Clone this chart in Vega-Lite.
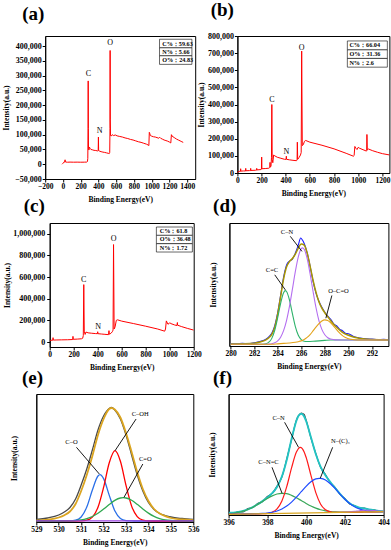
{
"$schema":"https://vega.github.io/schema/vega-lite/v6.json",
"padding":{"left":0,"top":0,"right":0,"bottom":2},
"background":"white",
"config":{
"font":"Liberation Serif",
"view":{"stroke":"#000","strokeWidth":1},
"axis":{"labelFont":"Liberation Serif","labelFontWeight":"bold","labelFontSize":7.5,"labelColor":"#000","titleFont":"Liberation Serif","titleFontWeight":"bold","titleFontSize":7.5,"titleColor":"#000","domainColor":"#000","tickColor":"#000","tickSize":3,"grid":false,"labelPadding":1,"titlePadding":5.5,"labelOverlap":false,"labelFlush":false},
"axisY":{"labelFontSize":8},
"axisX":{"labelPadding":0},
"title":{"font":"Liberation Serif","fontSize":19,"fontWeight":"bold","anchor":"start","frame":"group","baseline":"alphabetic","color":"#000"},
"text":{"font":"Liberation Serif","color":"#000"}
},
"datasets":{
"A":[{"x":-10,"y":0},{"x":0,"y":3000},{"x":8,"y":6500},{"x":18,"y":7000},{"x":24,"y":15000},{"x":28,"y":7500},{"x":50,"y":6800},{"x":80,"y":7200},{"x":120,"y":6900},{"x":160,"y":7100},{"x":200,"y":6800},{"x":240,"y":7000},{"x":268,"y":7300},{"x":276,"y":9000},{"x":280,"y":20000},{"x":283,"y":120000},{"x":284.5,"y":282000},{"x":286,"y":120000},{"x":288,"y":55000},{"x":292,"y":48000},{"x":298,"y":58000},{"x":305,"y":54000},{"x":315,"y":50000},{"x":330,"y":49000},{"x":350,"y":47000},{"x":370,"y":46500},{"x":390,"y":45000},{"x":397,"y":46000},{"x":399.5,"y":92000},{"x":402,"y":46000},{"x":415,"y":44000},{"x":430,"y":42500},{"x":450,"y":41000},{"x":470,"y":40000},{"x":490,"y":38500},{"x":510,"y":37000},{"x":522,"y":36000},{"x":527,"y":40000},{"x":530,"y":120000},{"x":531.5,"y":385000},{"x":533,"y":150000},{"x":536,"y":97000},{"x":545,"y":96000},{"x":555,"y":100000},{"x":570,"y":97000},{"x":590,"y":99000},{"x":610,"y":96000},{"x":640,"y":94000},{"x":670,"y":92000},{"x":700,"y":89000},{"x":730,"y":87000},{"x":760,"y":84000},{"x":790,"y":82000},{"x":820,"y":79000},{"x":850,"y":76000},{"x":880,"y":74000},{"x":910,"y":71000},{"x":940,"y":68000},{"x":960,"y":65000},{"x":968,"y":63000},{"x":973,"y":108000},{"x":978,"y":104000},{"x":985,"y":97000},{"x":1000,"y":95000},{"x":1020,"y":93000},{"x":1040,"y":92000},{"x":1060,"y":90000},{"x":1080,"y":88000},{"x":1090,"y":91000},{"x":1100,"y":88000},{"x":1120,"y":85000},{"x":1140,"y":82000},{"x":1160,"y":80000},{"x":1180,"y":78000},{"x":1200,"y":75000},{"x":1215,"y":72000},{"x":1222,"y":100000},{"x":1228,"y":96000},{"x":1240,"y":93000},{"x":1260,"y":89000},{"x":1280,"y":85000},{"x":1300,"y":82000},{"x":1320,"y":79000},{"x":1340,"y":76000},{"x":1355,"y":74000}],
"Alab":[{"x":288,"y":307000,"t":"C"},{"x":412,"y":113000,"t":"N"},{"x":532,"y":409000,"t":"O"}],
"Abox":[{"x":1088,"x2":1453,"y":423000,"y2":394000},{"x":1088,"x2":1453,"y":394000,"y2":367000},{"x":1088,"x2":1453,"y":367000,"y2":338000}],
"Atxt":[{"x":1118,"y":408000,"t":"C%：59.63"},{"x":1118,"y":380000,"t":"N%：5.66"},{"x":1118,"y":352000,"t":"O%：24.83"}],
"B":[{"x":0,"y":0},{"x":5,"y":8000},{"x":20,"y":10000},{"x":26,"y":10000},{"x":27,"y":25000},{"x":28,"y":11000},{"x":50,"y":12000},{"x":68,"y":12000},{"x":69,"y":27000},{"x":70,"y":13000},{"x":100,"y":14000},{"x":109,"y":14000},{"x":110,"y":27000},{"x":111,"y":15000},{"x":150,"y":16000},{"x":159,"y":17000},{"x":160,"y":27000},{"x":161,"y":18000},{"x":195,"y":20000},{"x":199,"y":22000},{"x":201,"y":93000},{"x":203,"y":25000},{"x":230,"y":26000},{"x":260,"y":28000},{"x":268,"y":32000},{"x":270,"y":62000},{"x":272,"y":35000},{"x":278,"y":38000},{"x":282,"y":90000},{"x":285,"y":400000},{"x":288,"y":80000},{"x":293,"y":60000},{"x":300,"y":105000},{"x":310,"y":100000},{"x":330,"y":92000},{"x":360,"y":86000},{"x":390,"y":80000},{"x":403,"y":80000},{"x":405,"y":98000},{"x":407,"y":80000},{"x":430,"y":77000},{"x":460,"y":74000},{"x":488,"y":72000},{"x":494,"y":75000},{"x":496,"y":180000},{"x":499,"y":80000},{"x":510,"y":90000},{"x":522,"y":105000},{"x":528,"y":120000},{"x":532,"y":712000},{"x":537,"y":160000},{"x":545,"y":165000},{"x":555,"y":185000},{"x":565,"y":190000},{"x":600,"y":180000},{"x":700,"y":162000},{"x":800,"y":141000},{"x":900,"y":115000},{"x":960,"y":98000},{"x":966,"y":102000},{"x":972,"y":155000},{"x":980,"y":145000},{"x":990,"y":137000},{"x":1000,"y":150000},{"x":1010,"y":145000},{"x":1040,"y":136000},{"x":1068,"y":128000},{"x":1070,"y":130000},{"x":1072,"y":225000},{"x":1075,"y":135000},{"x":1085,"y":140000},{"x":1120,"y":130000},{"x":1160,"y":121000},{"x":1200,"y":113000},{"x":1262,"y":105000}],
"Blab":[{"x":286,"y":426000,"t":"C"},{"x":405,"y":124000,"t":"N"},{"x":532,"y":731000,"t":"O"}],
"Bbox":[{"x":910,"x2":1241,"y":771000,"y2":719000},{"x":910,"x2":1241,"y":719000,"y2":669000},{"x":910,"x2":1241,"y":669000,"y2":618000}],
"Btxt":[{"x":927,"y":745000,"t":"C%：66.04"},{"x":927,"y":694000,"t":"O%：31.36"},{"x":927,"y":644000,"t":"N%：2.6"}],
"C":[{"x":0,"y":12000},{"x":10,"y":16000},{"x":26,"y":17000},{"x":28,"y":40000},{"x":30,"y":18000},{"x":60,"y":19000},{"x":100,"y":20000},{"x":150,"y":21000},{"x":192,"y":23000},{"x":194,"y":52000},{"x":196,"y":25000},{"x":230,"y":27000},{"x":265,"y":30000},{"x":275,"y":35000},{"x":280,"y":60000},{"x":284,"y":530000},{"x":288,"y":100000},{"x":295,"y":70000},{"x":302,"y":92000},{"x":320,"y":85000},{"x":350,"y":81000},{"x":380,"y":78000},{"x":398,"y":77000},{"x":400,"y":95000},{"x":402,"y":77000},{"x":430,"y":74000},{"x":460,"y":71000},{"x":490,"y":68000},{"x":494,"y":105000},{"x":497,"y":72000},{"x":510,"y":80000},{"x":522,"y":95000},{"x":528,"y":110000},{"x":532,"y":900000},{"x":537,"y":120000},{"x":545,"y":140000},{"x":555,"y":200000},{"x":565,"y":205000},{"x":600,"y":193000},{"x":700,"y":170000},{"x":800,"y":146000},{"x":900,"y":120000},{"x":958,"y":100000},{"x":965,"y":120000},{"x":972,"y":195000},{"x":985,"y":165000},{"x":995,"y":170000},{"x":1000,"y":178000},{"x":1010,"y":170000},{"x":1040,"y":158000},{"x":1060,"y":152000},{"x":1064,"y":180000},{"x":1066,"y":155000},{"x":1100,"y":142000},{"x":1150,"y":125000},{"x":1200,"y":110000}],
"Clab":[{"x":283,"y":569000,"t":"C"},{"x":403,"y":138000,"t":"N"},{"x":532,"y":955000,"t":"O"}],
"Cbox":[{"x":889,"x2":1189,"y":1062000,"y2":985000},{"x":889,"x2":1189,"y":985000,"y2":908000},{"x":889,"x2":1189,"y":908000,"y2":831000}],
"Ctxt":[{"x":917,"y":1023000,"t":"C%：61.8"},{"x":917,"y":947000,"t":"O%：36.48"},{"x":917,"y":869000,"t":"N%：1.72"}],
"D":[
{"s":"raw","x":280,"y":0.8},{"s":"raw","x":280.5,"y":0.4},{"s":"raw","x":281,"y":1},{"s":"raw","x":281.5,"y":0.6},{"s":"raw","x":282,"y":1.5},{"s":"raw","x":282.5,"y":2.8},{"s":"raw","x":283,"y":5},{"s":"raw","x":283.25,"y":7.5},{"s":"raw","x":283.5,"y":11},{"s":"raw","x":283.75,"y":18.5},{"s":"raw","x":284,"y":31.5},{"s":"raw","x":284.25,"y":49},{"s":"raw","x":284.5,"y":67},{"s":"raw","x":284.75,"y":79},{"s":"raw","x":285,"y":83},{"s":"raw","x":285.25,"y":85},{"s":"raw","x":285.5,"y":91},{"s":"raw","x":285.75,"y":99},{"s":"raw","x":285.95,"y":106},{"s":"raw","x":286.1,"y":104},{"s":"raw","x":286.25,"y":100.5},{"s":"raw","x":286.5,"y":91.5},{"s":"raw","x":286.75,"y":78},{"s":"raw","x":287,"y":63},{"s":"raw","x":287.25,"y":51},{"s":"raw","x":287.5,"y":43},{"s":"raw","x":287.75,"y":37},{"s":"raw","x":288,"y":32},{"s":"raw","x":288.25,"y":28},{"s":"raw","x":288.5,"y":25},{"s":"raw","x":288.75,"y":20.5},{"s":"raw","x":289,"y":18.5},{"s":"raw","x":289.25,"y":15},{"s":"raw","x":289.5,"y":13.5},{"s":"raw","x":289.75,"y":11},{"s":"raw","x":290,"y":10.5},{"s":"raw","x":290.5,"y":7.5},{"s":"raw","x":291,"y":6.3},{"s":"raw","x":291.5,"y":5.5},{"s":"raw","x":292,"y":5.2},{"s":"raw","x":292.5,"y":4.7},{"s":"raw","x":293,"y":5},{"s":"raw","x":293.4,"y":4.6},
{"s":"env","x":280,"y":0.3},{"s":"env","x":281,"y":0.5},{"s":"env","x":282,"y":1},{"s":"env","x":282.5,"y":2.3},{"s":"env","x":283,"y":4.5},{"s":"env","x":283.25,"y":6.5},{"s":"env","x":283.5,"y":10},{"s":"env","x":283.75,"y":17},{"s":"env","x":284,"y":30},{"s":"env","x":284.25,"y":47.5},{"s":"env","x":284.5,"y":65},{"s":"env","x":284.75,"y":77},{"s":"env","x":285,"y":82.5},{"s":"env","x":285.25,"y":85.5},{"s":"env","x":285.5,"y":90},{"s":"env","x":285.75,"y":96},{"s":"env","x":286,"y":100},{"s":"env","x":286.25,"y":99},{"s":"env","x":286.5,"y":91},{"s":"env","x":286.75,"y":78},{"s":"env","x":287,"y":64},{"s":"env","x":287.25,"y":52},{"s":"env","x":287.5,"y":42.5},{"s":"env","x":287.75,"y":36},{"s":"env","x":288,"y":31.5},{"s":"env","x":288.25,"y":27.5},{"s":"env","x":288.5,"y":23.5},{"s":"env","x":288.75,"y":20},{"s":"env","x":289,"y":17},{"s":"env","x":289.5,"y":12},{"s":"env","x":290,"y":9},{"s":"env","x":290.5,"y":7},{"s":"env","x":291,"y":5.8},{"s":"env","x":292,"y":4.8},{"s":"env","x":293.4,"y":4.4},
{"s":"g","x":280,"y":0},{"s":"g","x":282,"y":0},{"s":"g","x":282.5,"y":0.03},{"s":"g","x":283,"y":0.6},{"s":"g","x":283.25,"y":2.1},{"s":"g","x":283.5,"y":5.9},{"s":"g","x":283.75,"y":14},{"s":"g","x":284,"y":26.5},{"s":"g","x":284.25,"y":40.9},{"s":"g","x":284.5,"y":51.5},{"s":"g","x":284.65,"y":53.5},{"s":"g","x":284.75,"y":52.7},{"s":"g","x":285,"y":44.2},{"s":"g","x":285.25,"y":30.5},{"s":"g","x":285.5,"y":17.6},{"s":"g","x":285.75,"y":9},{"s":"g","x":286,"y":4.7},{"s":"g","x":286.25,"y":3.1},{"s":"g","x":286.5,"y":2.8},{"s":"g","x":287,"y":3},{"s":"g","x":287.5,"y":3.4},{"s":"g","x":288,"y":3.9},{"s":"g","x":288.5,"y":4.3},{"s":"g","x":293.4,"y":4.3},
{"s":"p","x":280,"y":0},{"s":"p","x":282.5,"y":0},{"s":"p","x":283,"y":0.05},{"s":"p","x":283.25,"y":0.16},{"s":"p","x":283.5,"y":0.5},{"s":"p","x":283.75,"y":1.5},{"s":"p","x":284,"y":3.4},{"s":"p","x":284.25,"y":7.1},{"s":"p","x":284.5,"y":13.6},{"s":"p","x":284.75,"y":23.7},{"s":"p","x":285,"y":37.8},{"s":"p","x":285.25,"y":55},{"s":"p","x":285.5,"y":72.7},{"s":"p","x":285.75,"y":87.3},{"s":"p","x":286,"y":95.5},{"s":"p","x":286.1,"y":96.2},{"s":"p","x":286.25,"y":94.8},{"s":"p","x":286.5,"y":85.6},{"s":"p","x":286.75,"y":70.4},{"s":"p","x":287,"y":52.9},{"s":"p","x":287.25,"y":36.7},{"s":"p","x":287.5,"y":23.7},{"s":"p","x":287.75,"y":14.9},{"s":"p","x":288,"y":9.5},{"s":"p","x":288.25,"y":6.6},{"s":"p","x":288.5,"y":5.3},{"s":"p","x":288.75,"y":4.7},{"s":"p","x":289,"y":4.4},{"s":"p","x":289.5,"y":4.3},{"s":"p","x":293.4,"y":4.3},
{"s":"o","x":280,"y":0},{"s":"o","x":283.5,"y":0},{"s":"o","x":284,"y":0.4},{"s":"o","x":284.5,"y":0.9},{"s":"o","x":285,"y":1.3},{"s":"o","x":285.5,"y":2},{"s":"o","x":285.75,"y":2.6},{"s":"o","x":286,"y":3.4},{"s":"o","x":286.25,"y":4.8},{"s":"o","x":286.5,"y":6.9},{"s":"o","x":286.75,"y":9.7},{"s":"o","x":287,"y":13.3},{"s":"o","x":287.25,"y":17.1},{"s":"o","x":287.5,"y":20.6},{"s":"o","x":287.75,"y":23.3},{"s":"o","x":288,"y":24.4},{"s":"o","x":288.25,"y":23.7},{"s":"o","x":288.5,"y":21.5},{"s":"o","x":288.75,"y":18.2},{"s":"o","x":289,"y":14.6},{"s":"o","x":289.25,"y":11.4},{"s":"o","x":289.5,"y":8.6},{"s":"o","x":289.75,"y":6.7},{"s":"o","x":290,"y":5.6},{"s":"o","x":290.5,"y":4.6},{"s":"o","x":291,"y":4.3},{"s":"o","x":293.4,"y":4.3}],
"DL":[{"x":285.07,"y":107.7,"x2":286.06,"y2":92.7},{"x":283.75,"y":69.3,"x2":284.65,"y2":54.3},{"x":288.6,"y":48.7,"x2":288.09,"y2":26}],
"Dtxt":[{"x":284.79,"y":112,"t":"C–N"},{"x":283.52,"y":74.3,"t":"C=C"},{"x":289.16,"y":53.3,"t":"O–C=O"}],
"E":[
{"s":"raw","x":529,"y":2.5},{"s":"raw","x":529.5,"y":4},{"s":"raw","x":530,"y":7},{"s":"raw","x":530.25,"y":10},{"s":"raw","x":530.5,"y":14.5},{"s":"raw","x":530.75,"y":23},{"s":"raw","x":531,"y":37},{"s":"raw","x":531.25,"y":53},{"s":"raw","x":531.5,"y":72},{"s":"raw","x":531.75,"y":92},{"s":"raw","x":532,"y":106},{"s":"raw","x":532.25,"y":113.5},{"s":"raw","x":532.35,"y":114.5},{"s":"raw","x":532.5,"y":112},{"s":"raw","x":532.75,"y":103},{"s":"raw","x":533,"y":87},{"s":"raw","x":533.25,"y":67},{"s":"raw","x":533.5,"y":47},{"s":"raw","x":533.75,"y":31},{"s":"raw","x":534,"y":19.5},{"s":"raw","x":534.25,"y":12.5},{"s":"raw","x":534.5,"y":8.5},{"s":"raw","x":534.75,"y":6.5},{"s":"raw","x":535,"y":5},{"s":"raw","x":535.5,"y":3.5},{"s":"raw","x":536,"y":2.6},
{"s":"env","x":529,"y":1.5},{"s":"env","x":529.5,"y":2.3},{"s":"env","x":530,"y":4.5},{"s":"env","x":530.25,"y":6.8},{"s":"env","x":530.5,"y":10.5},{"s":"env","x":530.75,"y":18},{"s":"env","x":531,"y":31},{"s":"env","x":531.25,"y":47},{"s":"env","x":531.5,"y":66},{"s":"env","x":531.75,"y":87},{"s":"env","x":532,"y":103},{"s":"env","x":532.25,"y":113},{"s":"env","x":532.35,"y":114},{"s":"env","x":532.5,"y":112.5},{"s":"env","x":532.75,"y":104.5},{"s":"env","x":533,"y":89},{"s":"env","x":533.25,"y":70},{"s":"env","x":533.5,"y":50},{"s":"env","x":533.75,"y":33},{"s":"env","x":534,"y":21},{"s":"env","x":534.25,"y":13},{"s":"env","x":534.5,"y":8.5},{"s":"env","x":534.75,"y":5.8},{"s":"env","x":535,"y":4},{"s":"env","x":535.5,"y":2.5},{"s":"env","x":536,"y":1.8},
{"s":"b","x":529,"y":1},{"s":"b","x":530.25,"y":1},{"s":"b","x":530.5,"y":1.09},{"s":"b","x":530.75,"y":1.76},{"s":"b","x":531,"y":5},{"s":"b","x":531.25,"y":14.9},{"s":"b","x":531.5,"y":32},{"s":"b","x":531.75,"y":46},{"s":"b","x":531.84,"y":47.3},{"s":"b","x":532,"y":43.4},{"s":"b","x":532.25,"y":26.9},{"s":"b","x":532.5,"y":11.2},{"s":"b","x":532.75,"y":3.6},{"s":"b","x":533,"y":1.44},{"s":"b","x":533.25,"y":1.05},{"s":"b","x":533.5,"y":1},{"s":"b","x":536,"y":1},
{"s":"r","x":529,"y":1},{"s":"r","x":530.75,"y":1},{"s":"r","x":531,"y":1.11},{"s":"r","x":531.25,"y":1.78},{"s":"r","x":531.5,"y":4.9},{"s":"r","x":531.75,"y":14.7},{"s":"r","x":532,"y":34.6},{"s":"r","x":532.25,"y":59},{"s":"r","x":532.51,"y":71.3},{"s":"r","x":532.75,"y":60.7},{"s":"r","x":533,"y":36.6},{"s":"r","x":533.25,"y":15.9},{"s":"r","x":533.5,"y":5.4},{"s":"r","x":533.75,"y":1.9},{"s":"r","x":534,"y":1.13},{"s":"r","x":534.25,"y":1},{"s":"r","x":536,"y":1},
{"s":"g","x":529,"y":1},{"s":"g","x":530,"y":1.02},{"s":"g","x":530.5,"y":1.17},{"s":"g","x":530.75,"y":1.46},{"s":"g","x":531,"y":2.09},{"s":"g","x":531.25,"y":3.34},{"s":"g","x":531.5,"y":5.48},{"s":"g","x":531.75,"y":8.7},{"s":"g","x":532,"y":12.9},{"s":"g","x":532.25,"y":17.5},{"s":"g","x":532.5,"y":21.6},{"s":"g","x":532.75,"y":24},{"s":"g","x":532.88,"y":24.3},{"s":"g","x":533,"y":24},{"s":"g","x":533.25,"y":21.7},{"s":"g","x":533.5,"y":17.7},{"s":"g","x":533.75,"y":13.1},{"s":"g","x":534,"y":8.9},{"s":"g","x":534.25,"y":5.6},{"s":"g","x":534.5,"y":3.4},{"s":"g","x":534.75,"y":2.13},{"s":"g","x":535,"y":1.48},{"s":"g","x":535.25,"y":1.18},{"s":"g","x":535.5,"y":1.06},{"s":"g","x":536,"y":1},
{"s":"p","x":529,"y":1.2},{"s":"p","x":536,"y":1.2}],
"EL":[{"x":530.79,"y":74.7,"x2":531.81,"y2":48},{"x":533.45,"y":103,"x2":532.51,"y2":71.3},{"x":533.75,"y":58,"x2":532.91,"y2":24.7}],
"Etxt":[{"x":530.57,"y":80.3,"t":"C–O"},{"x":533.63,"y":108,"t":"C–OH"},{"x":533.86,"y":63,"t":"C=O"}],
"F":[
{"s":"raw","x":396,"y":2.5},{"s":"raw","x":396.25,"y":1.5},{"s":"raw","x":396.5,"y":3.5},{"s":"raw","x":396.75,"y":3},{"s":"raw","x":397,"y":6.5},{"s":"raw","x":397.25,"y":7.5},{"s":"raw","x":397.5,"y":11.5},{"s":"raw","x":397.75,"y":13.5},{"s":"raw","x":398,"y":18.5},{"s":"raw","x":398.25,"y":21.5},{"s":"raw","x":398.5,"y":29},{"s":"raw","x":398.75,"y":38},{"s":"raw","x":399,"y":56},{"s":"raw","x":399.25,"y":75.5},{"s":"raw","x":399.5,"y":95},{"s":"raw","x":399.65,"y":100.5},{"s":"raw","x":399.75,"y":102},{"s":"raw","x":399.9,"y":100.5},{"s":"raw","x":400,"y":95},{"s":"raw","x":400.25,"y":77},{"s":"raw","x":400.5,"y":61.5},{"s":"raw","x":400.75,"y":47.5},{"s":"raw","x":401,"y":40.5},{"s":"raw","x":401.25,"y":32.5},{"s":"raw","x":401.5,"y":27.5},{"s":"raw","x":401.75,"y":20.5},{"s":"raw","x":402,"y":16.5},{"s":"raw","x":402.25,"y":11},{"s":"raw","x":402.5,"y":9.5},{"s":"raw","x":402.75,"y":7},{"s":"raw","x":403,"y":7},{"s":"raw","x":403.25,"y":5},{"s":"raw","x":403.5,"y":5.2},{"s":"raw","x":403.75,"y":3.8},{"s":"raw","x":404,"y":3.8},
{"s":"cy","x":396,"y":2.2},{"s":"cy","x":396.25,"y":2.3},{"s":"cy","x":396.5,"y":3},{"s":"cy","x":396.75,"y":4},{"s":"cy","x":397,"y":5.6},{"s":"cy","x":397.25,"y":7.9},{"s":"cy","x":397.5,"y":10.7},{"s":"cy","x":397.75,"y":13.9},{"s":"cy","x":398,"y":17.5},{"s":"cy","x":398.25,"y":21.8},{"s":"cy","x":398.5,"y":28.1},{"s":"cy","x":398.75,"y":38.5},{"s":"cy","x":399,"y":55.1},{"s":"cy","x":399.25,"y":76.1},{"s":"cy","x":399.5,"y":94.3},{"s":"cy","x":399.6,"y":98.9},{"s":"cy","x":399.75,"y":101.3},{"s":"cy","x":399.9,"y":98.5},{"s":"cy","x":400,"y":94},{"s":"cy","x":400.25,"y":77.7},{"s":"cy","x":400.5,"y":61},{"s":"cy","x":400.75,"y":48.2},{"s":"cy","x":401,"y":39.6},{"s":"cy","x":401.25,"y":33},{"s":"cy","x":401.5,"y":27},{"s":"cy","x":401.75,"y":21.2},{"s":"cy","x":402,"y":15.9},{"s":"cy","x":402.25,"y":11.8},{"s":"cy","x":402.5,"y":9.05},{"s":"cy","x":402.75,"y":7.4},{"s":"cy","x":403,"y":6.5},{"s":"cy","x":403.25,"y":5.65},{"s":"cy","x":403.5,"y":4.8},{"s":"cy","x":403.75,"y":4},{"s":"cy","x":404,"y":3.6},
{"s":"g","x":396,"y":1.22},{"s":"g","x":396.25,"y":1.75},{"s":"g","x":396.5,"y":2.58},{"s":"g","x":396.75,"y":3.82},{"s":"g","x":397,"y":5.56},{"s":"g","x":397.25,"y":7.83},{"s":"g","x":397.5,"y":10.56},{"s":"g","x":397.75,"y":13.57},{"s":"g","x":398,"y":16.55},{"s":"g","x":398.25,"y":19.13},{"s":"g","x":398.5,"y":21},{"s":"g","x":398.75,"y":21.7},{"s":"g","x":399,"y":21.3},{"s":"g","x":399.25,"y":19.66},{"s":"g","x":399.5,"y":17.24},{"s":"g","x":399.75,"y":14.42},{"s":"g","x":400,"y":11.6},{"s":"g","x":400.25,"y":8.98},{"s":"g","x":400.5,"y":6.86},{"s":"g","x":400.75,"y":5.24},{"s":"g","x":401,"y":4.13},{"s":"g","x":401.25,"y":3.43},{"s":"g","x":401.5,"y":3.03},{"s":"g","x":401.75,"y":2.84},{"s":"g","x":402,"y":2.78},{"s":"g","x":402.5,"y":2.83},{"s":"g","x":403,"y":2.98},{"s":"g","x":404,"y":3.3},
{"s":"r","x":396,"y":0.7},{"s":"r","x":397,"y":1.03},{"s":"r","x":397.5,"y":1.19},{"s":"r","x":397.75,"y":1.33},{"s":"r","x":398,"y":1.66},{"s":"r","x":398.25,"y":2.78},{"s":"r","x":398.5,"y":6.1},{"s":"r","x":398.75,"y":14},{"s":"r","x":399,"y":28.3},{"s":"r","x":399.25,"y":47.1},{"s":"r","x":399.5,"y":62.9},{"s":"r","x":399.7,"y":67.7},{"s":"r","x":399.9,"y":63.1},{"s":"r","x":400,"y":57.7},{"s":"r","x":400.25,"y":39.7},{"s":"r","x":400.5,"y":22.4},{"s":"r","x":400.75,"y":10.8},{"s":"r","x":401,"y":5.2},{"s":"r","x":401.25,"y":3.18},{"s":"r","x":401.5,"y":2.65},{"s":"r","x":402,"y":2.65},{"s":"r","x":403,"y":2.98},{"s":"r","x":404,"y":3.3},
{"s":"b","x":396,"y":0.7},{"s":"b","x":397,"y":1.05},{"s":"b","x":397.5,"y":1.32},{"s":"b","x":397.75,"y":1.57},{"s":"b","x":398,"y":2},{"s":"b","x":398.25,"y":2.74},{"s":"b","x":398.5,"y":3.99},{"s":"b","x":398.75,"y":5.97},{"s":"b","x":399,"y":8.9},{"s":"b","x":399.25,"y":12.86},{"s":"b","x":399.5,"y":17.8},{"s":"b","x":399.75,"y":23.3},{"s":"b","x":400,"y":28.7},{"s":"b","x":400.25,"y":33.2},{"s":"b","x":400.5,"y":36.1},{"s":"b","x":400.68,"y":36.7},{"s":"b","x":400.75,"y":36.6},{"s":"b","x":401,"y":34.9},{"s":"b","x":401.25,"y":31.2},{"s":"b","x":401.5,"y":26.3},{"s":"b","x":401.75,"y":20.9},{"s":"b","x":402,"y":15.75},{"s":"b","x":402.25,"y":11.5},{"s":"b","x":402.5,"y":8.3},{"s":"b","x":402.75,"y":6.1},{"s":"b","x":403,"y":4.73},{"s":"b","x":403.25,"y":3.95},{"s":"b","x":403.5,"y":3.56},{"s":"b","x":403.75,"y":3.41},{"s":"b","x":404,"y":3.38},
{"s":"p","x":401.5,"y":2.5},{"s":"p","x":402,"y":2.75},{"s":"p","x":402.25,"y":3.03},{"s":"p","x":402.5,"y":3.55},{"s":"p","x":402.75,"y":4.22},{"s":"p","x":403,"y":4.74},{"s":"p","x":403.25,"y":4.76},{"s":"p","x":403.5,"y":4.35},{"s":"p","x":403.75,"y":3.85},{"s":"p","x":404,"y":3.54},
{"s":"o","x":396,"y":0.7},{"s":"o","x":404,"y":3.3}],
"FL":[{"x":398.89,"y":92.7,"x2":399.61,"y2":67.7},{"x":401.37,"y":67.7,"x2":400.73,"y2":36.7},{"x":398.24,"y":47.7,"x2":398.76,"y2":21.7}],
"Ftxt":[{"x":398.58,"y":96.7,"t":"C–N"},{"x":401.77,"y":74.3,"t":"N–(C)₃"},{"x":398.06,"y":52.7,"t":"C–N=C"}],
"none":[]
},
"columns":1,
"align":"none",
"spacing":-3,
"concat":[
{"columns":1,"align":"none","spacing":-7,"concat":[
{"spacing":42.2,"bounds":"flush","hconcat":[
{"width":2.8,"height":10,"view":{"stroke":null},"data":{"name":"none"},"mark":"point"},
{"width":150,"height":143,
"title":{"text":"(a)","dx":-23,"offset":12},
"encoding":{
"x":{"field":"x","type":"quantitative","scale":{"domain":[-200,1490],"nice":false,"zero":false},"axis":{"values":[-200,0,200,400,600,800,1000,1200,1400],"format":"d","title":"Binding Energy(eV)"}},
"y":{"field":"y","type":"quantitative","scale":{"domain":[-50000,434000],"nice":false,"zero":false},"axis":{"values":[-50000,0,50000,100000,150000,200000,250000,300000,350000,400000],"format":",.0f","title":"Intensity(a.u.)","titlePadding":4.5}}},
"layer":[
{"data":{"name":"A"},"mark":{"type":"line","color":"#ff0000","strokeWidth":1,"clip":true},"encoding":{}},
{"data":{"name":"Alab"},"mark":{"type":"text","fontSize":8},"encoding":{"text":{"field":"t"}}},
{"data":{"name":"Abox"},"mark":{"type":"rect","fill":"white","stroke":"#000","strokeWidth":0.6},"encoding":{"x2":{"field":"x2"},"y2":{"field":"y2"}}},
{"data":{"name":"Atxt"},"mark":{"type":"text","align":"left","fontSize":6.2,"fontWeight":"bold"},"encoding":{"text":{"field":"t"}}}]},
{"width":152,"height":137,
"title":{"text":"(b)","dx":-26.7,"offset":12},
"encoding":{
"x":{"field":"x","type":"quantitative","scale":{"domain":[0,1258],"nice":false,"zero":false},"axis":{"values":[0,200,400,600,800,1000,1200],"format":"d","title":"Binding Energy(eV)"}},
"y":{"field":"y","type":"quantitative","scale":{"domain":[0,800000],"nice":false,"zero":false},"axis":{"values":[0,100000,200000,300000,400000,500000,600000,700000,800000],"format":",.0f","title":"Intensity(a.u.)","titlePadding":1.7}}},
"layer":[
{"data":{"name":"B"},"mark":{"type":"line","color":"#ff0000","strokeWidth":1,"clip":true},"encoding":{}},
{"data":{"name":"Blab"},"mark":{"type":"text","fontSize":8},"encoding":{"text":{"field":"t"}}},
{"data":{"name":"Bbox"},"mark":{"type":"rect","fill":"white","stroke":"#000","strokeWidth":0.6},"encoding":{"x2":{"field":"x2"},"y2":{"field":"y2"}}},
{"data":{"name":"Btxt"},"mark":{"type":"text","align":"left","fontSize":6.2,"fontWeight":"bold"},"encoding":{"text":{"field":"t"}}}]}
]},
{"spacing":35.7,"bounds":"flush","hconcat":[
{"width":13.6,"height":10,"view":{"stroke":null},"data":{"name":"none"},"mark":"point"},
{"width":144,"height":124,
"title":{"text":"(c)","dx":-26,"offset":7},
"encoding":{
"x":{"field":"x","type":"quantitative","scale":{"domain":[0,1200],"nice":false,"zero":false},"axis":{"values":[0,200,400,600,800,1000,1200],"format":"d","title":"Binding Energy(eV)"}},
"y":{"field":"y","type":"quantitative","scale":{"domain":[-46000,1099000],"nice":false,"zero":false},"axis":{"values":[0,200000,400000,600000,800000,1000000],"format":",.0f","title":"Intensity(a.u.)","labelPadding":2,"titlePadding":1.5}}},
"layer":[
{"data":{"name":"C"},"mark":{"type":"line","color":"#ff0000","strokeWidth":1,"clip":true},"encoding":{}},
{"data":{"name":"Clab"},"mark":{"type":"text","fontSize":8},"encoding":{"text":{"field":"t"}}},
{"data":{"name":"Cbox"},"mark":{"type":"rect","fill":"white","stroke":"#000","strokeWidth":0.6},"encoding":{"x2":{"field":"x2"},"y2":{"field":"y2"}}},
{"data":{"name":"Ctxt"},"mark":{"type":"text","align":"left","fontSize":6.2,"fontWeight":"bold"},"encoding":{"text":{"field":"t"}}}]},
{"width":159,"height":123,
"title":{"text":"(d)","dx":-16.3,"offset":7},
"encoding":{
"x":{"field":"x","type":"quantitative","scale":{"domain":[279.9,293.4],"nice":false,"zero":false},"axis":{"values":[280,282,284,286,288,290,292],"format":"d","title":"Binding Energy(eV)"}},
"y":{"field":"y","type":"quantitative","scale":{"domain":[-1.7,121],"nice":false,"zero":false},"axis":{"labels":false,"ticks":false,"title":"Intensity(a.u.)","titlePadding":12.3}}},
"layer":[
{"data":{"name":"D"},"transform":[{"filter":"datum.s=='raw'"}],"mark":{"type":"line","color":"#1a1aff","strokeWidth":1.1,"interpolate":"monotone","clip":true},"encoding":{}},
{"data":{"name":"D"},"transform":[{"filter":"datum.s=='env'"}],"mark":{"type":"line","color":"#a89600","strokeWidth":1.5,"interpolate":"monotone","clip":true},"encoding":{}},
{"data":{"name":"D"},"transform":[{"filter":"datum.s=='g'"}],"mark":{"type":"line","color":"#2db26a","strokeWidth":1.1,"interpolate":"monotone","clip":true},"encoding":{}},
{"data":{"name":"D"},"transform":[{"filter":"datum.s=='p'"}],"mark":{"type":"line","color":"#b46ef0","strokeWidth":1.1,"interpolate":"monotone","clip":true},"encoding":{}},
{"data":{"name":"D"},"transform":[{"filter":"datum.s=='o'"}],"mark":{"type":"line","color":"#e3a21a","strokeWidth":1.1,"interpolate":"monotone","clip":true},"encoding":{}},
{"data":{"name":"DL"},"mark":{"type":"rule","color":"#000","strokeWidth":0.9},"encoding":{"x2":{"field":"x2"},"y2":{"field":"y2"}}},
{"data":{"name":"Dtxt"},"mark":{"type":"text","fontSize":6.5},"encoding":{"text":{"field":"t"}}}]}
]}
]},
{"spacing":35.3,"bounds":"flush","hconcat":[
{"width":0.7,"height":10,"view":{"stroke":null},"data":{"name":"none"},"mark":"point"},
{"width":157,"height":128,
"title":{"text":"(e)","dx":-14.3,"offset":6},
"encoding":{
"x":{"field":"x","type":"quantitative","scale":{"domain":[529,536],"nice":false,"zero":false},"axis":{"values":[529,530,531,532,533,534,535,536],"format":"d","title":"Binding Energy(eV)"}},
"y":{"field":"y","type":"quantitative","scale":{"domain":[0,128],"nice":false,"zero":false},"axis":{"labels":false,"ticks":false,"titlePadding":18,"title":"Intensity(a.u.)"}}},
"layer":[
{"data":{"name":"E"},"transform":[{"filter":"datum.s=='raw'"}],"mark":{"type":"line","color":"#4a4a4a","strokeWidth":1.3,"interpolate":"monotone","clip":true},"encoding":{}},
{"data":{"name":"E"},"transform":[{"filter":"datum.s=='env'"}],"mark":{"type":"line","color":"#dba520","strokeWidth":1.8,"interpolate":"monotone","clip":true},"encoding":{}},
{"data":{"name":"E"},"transform":[{"filter":"datum.s=='b'"}],"mark":{"type":"line","color":"#2a6fe8","strokeWidth":1.3,"interpolate":"monotone","clip":true},"encoding":{}},
{"data":{"name":"E"},"transform":[{"filter":"datum.s=='r'"}],"mark":{"type":"line","color":"#ff0000","strokeWidth":1.3,"interpolate":"monotone","clip":true},"encoding":{}},
{"data":{"name":"E"},"transform":[{"filter":"datum.s=='g'"}],"mark":{"type":"line","color":"#30a850","strokeWidth":1.3,"interpolate":"monotone","clip":true},"encoding":{}},
{"data":{"name":"E"},"transform":[{"filter":"datum.s=='p'"}],"mark":{"type":"line","color":"#9a40e0","strokeWidth":1.3,"clip":true},"encoding":{}},
{"data":{"name":"EL"},"mark":{"type":"rule","color":"#000","strokeWidth":0.9},"encoding":{"x2":{"field":"x2"},"y2":{"field":"y2"}}},
{"data":{"name":"Etxt"},"mark":{"type":"text","fontSize":6.5},"encoding":{"text":{"field":"t"}}}]},
{"width":155,"height":121,
"title":{"text":"(f)","dx":-15.6,"offset":6},
"encoding":{
"x":{"field":"x","type":"quantitative","scale":{"domain":[396,404],"nice":false,"zero":false},"axis":{"values":[396,398,400,402,404],"format":"d","title":"Binding Energy(eV)"}},
"y":{"field":"y","type":"quantitative","scale":{"domain":[0,121],"nice":false,"zero":false},"axis":{"labels":false,"ticks":false,"title":"Intensity(a.u.)","titlePadding":12.3}}},
"layer":[
{"data":{"name":"F"},"transform":[{"filter":"datum.s=='raw'"}],"mark":{"type":"line","color":"#3a3a3a","strokeWidth":1.1,"interpolate":"monotone","clip":true},"encoding":{}},
{"data":{"name":"F"},"transform":[{"filter":"datum.s=='cy'"}],"mark":{"type":"line","color":"#22c3c3","strokeWidth":1.9,"interpolate":"monotone","clip":true},"encoding":{}},
{"data":{"name":"F"},"transform":[{"filter":"datum.s=='g'"}],"mark":{"type":"line","color":"#3aa85a","strokeWidth":1.2,"interpolate":"monotone","clip":true},"encoding":{}},
{"data":{"name":"F"},"transform":[{"filter":"datum.s=='r'"}],"mark":{"type":"line","color":"#ff1a1a","strokeWidth":1.2,"interpolate":"monotone","clip":true},"encoding":{}},
{"data":{"name":"F"},"transform":[{"filter":"datum.s=='b'"}],"mark":{"type":"line","color":"#1e4bff","strokeWidth":1.2,"interpolate":"monotone","clip":true},"encoding":{}},
{"data":{"name":"F"},"transform":[{"filter":"datum.s=='p'"}],"mark":{"type":"line","color":"#b060e0","strokeWidth":1.2,"interpolate":"monotone","clip":true},"encoding":{}},
{"data":{"name":"F"},"transform":[{"filter":"datum.s=='o'"}],"mark":{"type":"line","color":"#d9a520","strokeWidth":1.2,"clip":true},"encoding":{}},
{"data":{"name":"FL"},"mark":{"type":"rule","color":"#000","strokeWidth":0.9},"encoding":{"x2":{"field":"x2"},"y2":{"field":"y2"}}},
{"data":{"name":"Ftxt"},"mark":{"type":"text","fontSize":6.5},"encoding":{"text":{"field":"t"}}}]}
]}
]
}
